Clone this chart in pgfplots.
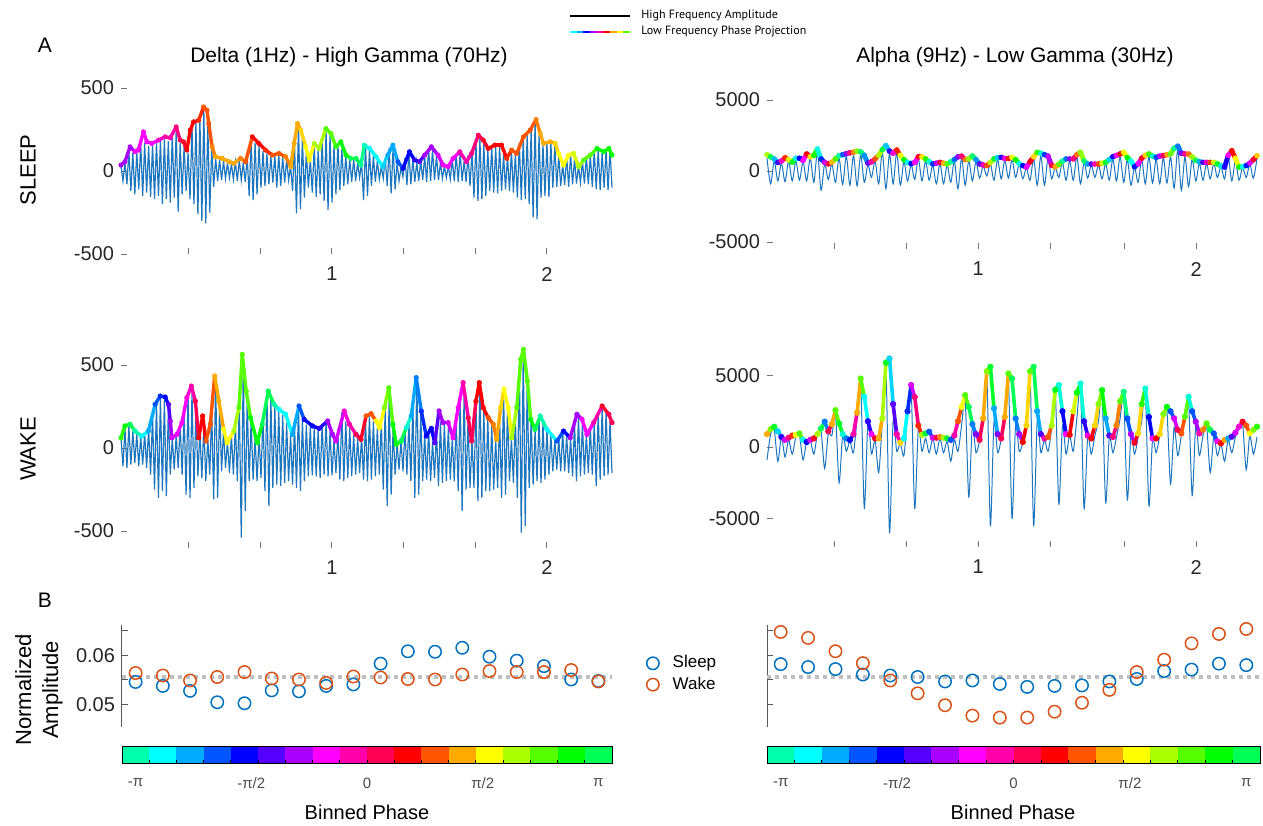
\documentclass[border=0pt]{standalone}
\usepackage{pgfplots}
\pgfplotsset{compat=1.18}
\usepackage{pgfplotstable}
\usepackage{fontspec}
\setmainfont{Liberation Sans}
\newfontfamily\legfont{PT Sans}
\definecolor{pc0}{RGB}{0,255,170}\definecolor{pc1}{RGB}{0,255,255}\definecolor{pc2}{RGB}{0,170,255}
\definecolor{pc3}{RGB}{0,85,255}\definecolor{pc4}{RGB}{0,0,255}\definecolor{pc5}{RGB}{85,0,255}
\definecolor{pc6}{RGB}{170,0,255}\definecolor{pc7}{RGB}{255,0,255}\definecolor{pc8}{RGB}{255,0,170}
\definecolor{pc9}{RGB}{255,0,85}\definecolor{pc10}{RGB}{255,0,0}\definecolor{pc11}{RGB}{255,85,0}
\definecolor{pc12}{RGB}{255,170,0}\definecolor{pc13}{RGB}{255,255,0}\definecolor{pc14}{RGB}{170,255,0}
\definecolor{pc15}{RGB}{85,255,0}\definecolor{pc16}{RGB}{0,255,0}\definecolor{pc17}{RGB}{0,255,85}
\definecolor{trc}{RGB}{30,118,190}
\definecolor{sblue}{RGB}{0,114,189}
\definecolor{worange}{RGB}{217,83,25}
\pgfplotsset{colormap={phase}{rgb255=(0,255,170) rgb255=(0,255,255) rgb255=(0,170,255) rgb255=(0,85,255) rgb255=(0,0,255) rgb255=(85,0,255) rgb255=(170,0,255) rgb255=(255,0,255) rgb255=(255,0,170) rgb255=(255,0,85) rgb255=(255,0,0) rgb255=(255,85,0) rgb255=(255,170,0) rgb255=(255,255,0) rgb255=(170,255,0) rgb255=(85,255,0) rgb255=(0,255,0) rgb255=(0,255,85) rgb255=(0,255,170)}}

% ---------- high frequency traces (one value per half cycle) ----------
\pgfplotstableread[row sep=\\,header=false]{30\\-60\\50\\-80\\120\\-120\\110\\-140\\115\\-110\\170\\-150\\170\\-130\\150\\-155\\160\\-170\\175\\-150\\185\\-200\\190\\-170\\180\\-190\\220\\-160\\250\\-245\\170\\-140\\150\\-120\\110\\-170\\270\\-200\\290\\-260\\330\\-300\\370\\-315\\300\\-250\\140\\-95\\80\\-60\\70\\-55\\60\\-45\\50\\-40\\42\\-50\\55\\-60\\70\\-55\\50\\-65\\85\\-150\\190\\-175\\170\\-140\\150\\-100\\120\\-90\\105\\-80\\90\\-70\\95\\-100\\100\\-90\\85\\-70\\70\\-55\\30\\-120\\160\\-255\\270\\-230\\200\\-160\\120\\-100\\70\\-130\\150\\-155\\130\\-140\\185\\-180\\240\\-235\\215\\-190\\150\\-140\\165\\-115\\130\\-90\\90\\-80\\70\\-65\\72\\-60\\50\\-40\\50\\-175\\150\\-150\\125\\-90\\90\\-65\\60\\-50\\25\\-45\\80\\-90\\140\\-135\\145\\-110\\50\\-60\\20\\-35\\80\\-85\\110\\-80\\70\\-65\\55\\-60\\65\\-55\\90\\-65\\135\\-60\\130\\-55\\95\\-55\\50\\-45\\30\\-40\\30\\-50\\70\\-60\\100\\-65\\110\\-60\\60\\-65\\95\\-90\\120\\-160\\180\\-180\\195\\-170\\165\\-150\\130\\-120\\150\\-130\\145\\-135\\150\\-120\\100\\-110\\90\\-120\\120\\-130\\105\\-160\\170\\-175\\195\\-170\\220\\-200\\250\\-280\\300\\-290\\215\\-160\\160\\-150\\170\\-155\\170\\-100\\155\\-95\\95\\-90\\40\\-85\\90\\-95\\100\\-80\\70\\-75\\30\\-70\\60\\-75\\85\\-80\\95\\-95\\125\\-110\\130\\-115\\110\\-100\\125\\-115\\130\\-100\\}\trTL

\pgfplotstableread[row sep=\\,header=false]{60\\-110\\120\\-120\\130\\-100\\100\\-90\\85\\-110\\70\\-100\\90\\-120\\120\\-160\\190\\-250\\270\\-300\\300\\-260\\290\\-290\\230\\-160\\60\\-130\\80\\-120\\140\\-160\\220\\-280\\320\\-300\\330\\-240\\240\\-170\\100\\-180\\140\\-200\\60\\-160\\220\\-310\\420\\-300\\250\\-140\\110\\-120\\40\\-150\\80\\-160\\145\\-200\\270\\-540\\500\\-380\\290\\-200\\170\\-190\\60\\-200\\70\\-180\\200\\-260\\330\\-350\\300\\-240\\250\\-220\\220\\-230\\200\\-210\\150\\-200\\80\\-220\\140\\-240\\250\\-260\\170\\-200\\140\\-170\\130\\-165\\120\\-170\\110\\-180\\140\\-160\\160\\-170\\100\\-165\\45\\-150\\90\\-190\\215\\-200\\160\\-180\\120\\-170\\80\\-160\\60\\-150\\70\\-190\\170\\-200\\200\\-190\\160\\-170\\120\\-160\\160\\-250\\260\\-350\\300\\-280\\120\\-160\\25\\-130\\45\\-140\\120\\-160\\160\\-200\\260\\-300\\410\\-280\\210\\-200\\80\\-190\\115\\-200\\40\\-180\\110\\-230\\160\\-210\\150\\-200\\120\\-190\\60\\-200\\170\\-260\\300\\-380\\330\\-250\\170\\-240\\45\\-240\\270\\-320\\380\\-300\\230\\-260\\180\\-260\\140\\-250\\60\\-240\\190\\-300\\340\\-280\\230\\-200\\60\\-210\\190\\-300\\500\\-510\\580\\-470\\390\\-240\\170\\-220\\110\\-200\\180\\-210\\150\\-190\\110\\-160\\80\\-140\\50\\-130\\60\\-140\\100\\-140\\80\\-150\\60\\-170\\150\\-200\\190\\-170\\150\\-160\\80\\-150\\130\\-160\\160\\-230\\220\\-190\\245\\-170\\220\\-160\\160\\-150\\}\trBL

\pgfplotstableread[row sep=\\,header=false]{900\\-900\\700\\-700\\550\\-750\\700\\-700\\700\\-650\\650\\-700\\900\\-800\\1350\\-1350\\500\\-600\\500\\-800\\900\\-950\\1050\\-1000\\1100\\-1050\\1150\\-800\\450\\-450\\700\\-900\\1300\\-1250\\1200\\-900\\1300\\-1000\\650\\-700\\450\\-600\\850\\-700\\700\\-650\\420\\-900\\520\\-900\\420\\-800\\700\\-1250\\900\\-1000\\720\\-700\\650\\-500\\350\\-350\\500\\-650\\800\\-550\\750\\-500\\800\\-450\\450\\-550\\220\\-650\\850\\-1000\\1050\\-1000\\900\\-550\\250\\-450\\600\\-650\\720\\-650\\1000\\-900\\600\\-500\\420\\-450\\420\\-550\\520\\-650\\850\\-700\\1000\\-800\\800\\-1000\\250\\-800\\780\\-900\\1000\\-850\\820\\-900\\920\\-850\\1000\\-1200\\1500\\-1350\\1000\\-1100\\850\\-700\\550\\-650\\520\\-550\\520\\-450\\300\\-550\\1000\\-700\\700\\-650\\250\\-450\\470\\-500\\900\\}\trTR

\pgfplotstableread[row sep=\\,header=false]{-900\\900\\1200\\-1000\\700\\-700\\500\\-500\\700\\800\\-900\\400\\500\\-500\\900\\1100\\-1500\\900\\800\\2300\\-2500\\800\\-300\\400\\-400\\2000\\4500\\-4300\\1700\\-500\\500\\-1800\\1800\\5800\\-6000\\1800\\-300\\250\\-600\\2200\\4100\\-4300\\1300\\-300\\600\\-400\\600\\-500\\600\\-400\\400\\-1000\\500\\-300\\1500\\3300\\-3500\\1500\\-400\\450\\1800\\5200\\-5500\\1800\\-400\\550\\1900\\4800\\-5000\\1600\\-300\\300\\1300\\5200\\-5500\\1800\\-400\\500\\-300\\1300\\4000\\-4000\\1500\\-500\\800\\-300\\2000\\4100\\-4300\\700\\-500\\800\\1800\\3700\\-3900\\700\\-400\\700\\2000\\3500\\-3700\\800\\-500\\700\\1800\\3800\\-4100\\500\\-400\\800\\2200\\2500\\-2600\\1400\\-600\\800\\2000\\3200\\-3400\\1500\\-600\\800\\1500\\-1800\\700\\-600\\200\\-1000\\500\\-400\\700\\1300\\1600\\-1600\\800\\-500\\700\\}\trBR

% ---------- low frequency phase projection (amplitude envelope, phase bin) ----------
\pgfplotstableread{
k e c
0 36 6
2 56 6
4.6 146 6
7.1 116 7
8.8 126 7
11.4 236 7
13.1 176 7
15.6 166 7
19 186 7.5
22.4 206 8
25 200 8
28 266 8.5
30 186 9
31.7 176 9.5
33.4 126 10
35.1 246 10
36.8 296 10
39.4 306 10.5
41.9 386 11
43.6 366 11
44.5 286 11
46.2 146 11.5
47.9 86 12
51.3 76 12
54.7 56 12
57.2 46 12
60.6 76 11.5
63.2 56 11
66.6 206 10
69.9 166 10
73.3 126 10.5
76.7 96 11
80.1 106 11
83.5 86 11.5
86.1 26 12
87.8 166 12
89.5 286 12
91.2 246 12.5
93.7 146 13
95.4 66 13
98 166 14
100.5 136 14
103.9 256 15
106.5 226 15
109 146 15.5
111.5 176 16
114.1 96 16
116.6 76 17
119.2 76 17
121.7 36 17.7
123.4 156 0.3
126 136 1
129.4 86 1
132.8 26 1.5
135.3 96 2
137.9 156 2
140.4 56 3
143 16 4
146.3 116 4
148.9 66 4.5
151.4 56 5
154 96 6
157.4 146 6
160.8 96 6.5
163.3 36 7
165.9 26 7
168.4 76 7
171.8 116 8
175.2 56 8
177.8 106 8.5
181.2 216 9
183.7 186 9.5
186.2 136 10
189.6 156 10
193 156 10
195.6 76 10.5
198.1 126 11
200.7 106 11
204.1 206 11
207.5 246 11
210.5 310 11.5
212.6 226 12
214.3 166 12
217.7 176 12
220.2 166 12.5
221.9 106 13
224.4 36 13
227 96 13
229.5 106 13.5
232.1 26 14
234.6 66 15
238 96 15
241.4 136 16
244.8 116 16
247.4 136 16
249 96 16
}\envTL

\pgfplotstableread{
k e c
0 62 15.5
2 133 16
4.6 143 17
7.1 102 0
10.5 72 1
13.9 102 2
17.3 263 3
19.9 313 3.5
22.4 307 4
24.1 262 5
25 162 6
25.8 62 6.5
28.4 82 7
30.9 153 7
33.4 303 7.5
35.7 373 8
37.7 283 9
39.4 62 10
41.4 193 10
43.1 42 11
45.3 143 11
47.5 434 12
49.6 283 12
52.1 112 13
53.8 32 13
57.2 102 14
59.8 243 15
61.5 564 15
63.5 343 15
65.7 183 16
69.1 32 16
71.6 143 17
74.7 343 17
77.6 263 0
80.1 233 1
83.5 203 1
86.9 82 2
90.3 253 3
92.9 172 4
97.1 133 4
100.5 118 4.5
104.8 163 6
107.3 82 6
109 42 6.5
113.2 223 7.5
115.8 143 8
119.2 82 9
121.7 52 9.5
124.3 193 11
126.8 207 11
129.4 163 13
131.1 122 13
133.6 243 14.5
135.8 363 15
137.9 142 16
139.6 22 16
142.1 42 17
144.7 123 0.5
147.2 193 2
149.7 424 2.5
152.3 222 3.5
154.8 72 4
157.4 118 4
159.1 32 5
161.3 223 6
163.3 153 6
165.9 153 6.5
168.4 62 7
171 243 7
173.5 394 8
176.1 182 9
177.8 42 9
180 282 10
181.7 394 10
183.7 242 10
186.2 183 11
188.8 143 11.5
190.5 52 12
192.5 243 12.5
194.2 354 13
196.4 242 13
198.1 62 14
200.7 243 15
202.7 534 15
204.1 594 15
206.1 404 15
207.8 172 16
210 112 17
212.6 193 0
216 112 1
221.1 42 3
224.4 102 4
227.8 62 6
231.2 203 6
233.8 173 7
236.3 82 7
239.7 153 8
244 253 9.5
247.4 203 9
249 153 9
}\envBL

\pgfplotstableread{
k e c
0 1150 14.0
1 1000 16.9
2 850 1.8
3 600 4.7
4 700 7.6
5 930 10.5
6 800 13.4
7 620 16.3
8 900 1.2
9 900 4.1
10 750 7.0
11 1200 9.9
12 1000 12.8
13 1100 15.7
14 1550 0.6
15 850 3.5
16 600 6.4
17 500 9.3
18 600 12.2
19 850 15.1
20 1080 0.0
21 1150 2.9
22 1220 5.8
23 1280 8.7
24 1320 11.6
25 1400 14.5
26 1350 17.4
27 1100 2.3
28 550 5.2
29 650 8.1
30 850 11.0
31 1100 13.9
32 1500 16.8
33 1790 1.7
34 1400 4.6
35 1250 7.5
36 1480 10.4
37 1100 13.3
38 800 16.2
39 600 1.1
40 520 4.0
41 600 6.9
42 1000 9.8
43 1000 12.7
44 850 15.6
45 650 0.5
46 500 3.4
47 550 6.3
48 610 9.2
49 550 12.1
50 500 15.0
51 650 17.9
52 800 2.8
53 1000 5.7
54 1050 8.6
55 800 11.5
56 850 14.4
57 1060 17.3
58 800 2.2
59 500 5.1
60 420 8.0
61 380 10.9
62 600 13.8
63 850 16.7
64 940 1.6
65 960 4.5
66 880 7.4
67 880 10.3
68 960 13.2
69 800 16.1
70 520 1.0
71 380 3.9
72 270 6.8
73 650 9.7
74 1000 12.6
75 1320 15.5
76 1250 0.4
77 1150 3.3
78 1050 6.2
79 400 9.1
80 300 12.0
81 470 14.9
82 700 17.8
83 850 2.7
84 850 5.6
85 850 8.5
86 1150 11.4
87 1320 14.3
88 700 17.2
89 490 2.1
90 490 5.0
91 490 7.9
92 490 10.8
93 550 13.7
94 610 16.6
95 800 1.5
96 1010 4.4
97 1100 7.3
98 1200 10.2
99 1320 13.1
100 950 16.0
101 700 0.9
102 300 3.8
103 500 6.7
104 900 9.6
105 1100 12.5
106 1200 15.4
107 1050 0.3
108 960 3.2
109 1050 6.1
110 1080 9.0
111 1150 11.9
112 1200 14.8
113 1600 17.7
114 1750 2.6
115 1250 5.5
116 1200 8.4
117 1200 11.3
118 1000 14.2
119 750 17.1
120 650 2.0
121 610 4.9
122 610 7.8
123 610 10.7
124 610 13.6
125 500 16.5
126 350 1.4
127 280 4.3
128 1100 7.2
129 1430 10.1
130 900 13.0
131 280 15.9
132 300 0.8
133 380 3.7
134 550 6.6
135 800 9.5
136 1080 12.4
}\envTR

\pgfplotstableread{
k e c
0 900 12
1 1250 14.5
2 1420 16.5
3 1100 1.5
4 700 4.5
5 500 6.5
6 650 8.5
7 800 10.5
8 850 13
9 950 15
10 500 1
11 350 4
12 500 6.5
13 600 9.5
14 900 14
15 1300 17
16 1770 2.5
17 1100 9
18 1600 12
19 2580 15
20 1650 16.5
21 900 0.5
22 600 2.5
23 490 4
24 900 8
25 2400 12
26 4790 15
27 3510 1
28 1800 4.5
29 900 7
30 600 9.5
31 600 12
32 2000 14
33 5900 16.5
34 6190 1.5
35 3000 5
36 900 8
37 300 12.5
38 600 1
39 2500 3.5
40 4330 6.5
41 3500 8.5
42 1500 10.5
43 850 14
44 950 16.5
45 1070 3
46 650 6.5
47 650 9
48 700 11.5
49 650 14
50 600 16.5
51 500 3
52 800 8
53 1800 11
54 2800 13
55 3630 15
56 2800 17
57 1600 2.5
58 900 5.5
59 500 9
60 2000 12
61 5300 14.5
62 5610 16.5
63 2700 2
64 900 5.5
65 600 9
66 2100 12
67 5140 15
68 4800 17
69 2000 2.5
70 900 6
71 350 10
72 1500 12.5
73 5300 15
74 5610 17
75 2500 2
76 900 5
77 600 8
78 700 11
79 1500 14
80 4000 16.5
81 4330 0.5
82 2500 4
83 900 7
84 850 10
85 2500 13.5
86 3800 16
87 4440 0.5
88 1800 4.5
89 800 7.5
90 600 10
91 1500 12.5
92 3000 14.5
93 3980 16
94 2000 2
95 800 5
96 700 8.5
97 1500 11.5
98 3200 15
99 3860 17.5
100 2000 3
101 900 6
102 300 9.5
103 950 12.5
104 3000 15.5
105 4090 0.5
106 2100 4
107 600 7
108 600 10
109 900 12.5
110 2300 14.5
111 2810 16
112 2500 3
113 2000 6.5
114 1200 9
115 950 11
116 2120 15
117 3510 0.5
118 2500 3
119 1770 6
120 950 8
121 1200 11.5
122 1650 15
123 1200 17
124 950 3
125 400 7
126 260 10
127 490 12
128 600 2
129 720 5
130 1000 6.5
131 1420 7.5
132 1770 9.5
133 1500 11
134 950 13
135 1200 14.5
136 1420 15.5
}\envBR

\pgfplotsset{
  sig/.style={anchor=south west, scale only axis,
    axis x line*=bottom, axis y line*=left, axis line style={draw=none},
    tick align=inside, major tick length=3pt,
    tick style={black!55, line width=0.5pt},
    clip=false, scaled ticks=false,
    /pgf/number format/1000 sep={},
    /pgf/number format/assume math mode=true,
    ticklabel style={font=\fontsize{10}{12}\selectfont, text=black!85},
    xticklabel style={yshift=-3pt},
    colormap name=phase, point meta min=0, point meta max=18},
  env/.style={mesh, shader=flat corner, point meta=explicit, line width=#1},
  dots/.style={scatter, only marks, mark=*, mark size=#1, point meta=explicit,
    scatter/use mapped color={draw=mapped color, fill=mapped color}},
  sc/.style={anchor=south west, scale only axis, height=51pt,
    xmin=-0.5, xmax=17.5, ymin=0.0455, ymax=0.0661,
    axis x line=none, axis y line*=left,
    y axis line style={black!65, line width=0.5pt},
    xtick=\empty, ytick={0.05,0.055,0.06,0.065},
    scaled y ticks=false,
    tick align=inside, major tick length=3pt,
    tick style={black!65, line width=0.5pt},
    ticklabel style={font=\fontsize{10}{12}\selectfont, text=black!85},
    clip=false},
  cb/.style={anchor=south west, scale only axis, height=8.5pt,
    xmin=-0.5, xmax=17.5, ymin=0, ymax=1, ytick=\empty,
    xtick={0,4.25,8.5,12.75,17}, xticklabels={-π,-π/2,0,π/2,π},
    major tick length=0pt,
    xticklabel style={font=\fontsize{7.5}{9}\selectfont, text=black!70, yshift=-4pt},
    axis line style={black, line width=0.5pt},
    extra x ticks={0.5,1.5,...,16.5}, extra x tick labels={},
    extra x tick style={major tick length=1.5pt, tick align=inside, xtick pos=bottom, tick style={black, line width=0.4pt}},
    axis on top},
}
\newcommand\cells{%
  \addplot[draw=none,fill=pc0] coordinates {(-0.5,1)(0.5,1)} \closedcycle;
  \addplot[draw=none,fill=pc1] coordinates {(0.5,1)(1.5,1)} \closedcycle;
  \addplot[draw=none,fill=pc2] coordinates {(1.5,1)(2.5,1)} \closedcycle;
  \addplot[draw=none,fill=pc3] coordinates {(2.5,1)(3.5,1)} \closedcycle;
  \addplot[draw=none,fill=pc4] coordinates {(3.5,1)(4.5,1)} \closedcycle;
  \addplot[draw=none,fill=pc5] coordinates {(4.5,1)(5.5,1)} \closedcycle;
  \addplot[draw=none,fill=pc6] coordinates {(5.5,1)(6.5,1)} \closedcycle;
  \addplot[draw=none,fill=pc7] coordinates {(6.5,1)(7.5,1)} \closedcycle;
  \addplot[draw=none,fill=pc8] coordinates {(7.5,1)(8.5,1)} \closedcycle;
  \addplot[draw=none,fill=pc9] coordinates {(8.5,1)(9.5,1)} \closedcycle;
  \addplot[draw=none,fill=pc10] coordinates {(9.5,1)(10.5,1)} \closedcycle;
  \addplot[draw=none,fill=pc11] coordinates {(10.5,1)(11.5,1)} \closedcycle;
  \addplot[draw=none,fill=pc12] coordinates {(11.5,1)(12.5,1)} \closedcycle;
  \addplot[draw=none,fill=pc13] coordinates {(12.5,1)(13.5,1)} \closedcycle;
  \addplot[draw=none,fill=pc14] coordinates {(13.5,1)(14.5,1)} \closedcycle;
  \addplot[draw=none,fill=pc15] coordinates {(14.5,1)(15.5,1)} \closedcycle;
  \addplot[draw=none,fill=pc16] coordinates {(15.5,1)(16.5,1)} \closedcycle;
  \addplot[draw=none,fill=pc17] coordinates {(16.5,1)(17.5,1)} \closedcycle;
}

\begin{document}
\begin{tikzpicture}
\path[use as bounding box] (0,0) rectangle (631.5pt,-412.5pt);

% ---- A: SLEEP delta / high gamma ----
\begin{axis}[sig, at={(60.5pt,-127pt)}, width=245.5pt, height=83pt,
  xmin=0, xmax=249, ymin=-500, ymax=500, ytick={-500,0,500},
  xtick={34.3,70.6,107,143.4,179.7,216}, xticklabels={,,1,,,2}]
\addplot[trc, line width=0.6pt] table[x expr=\coordindex, y index=0]{\trTL};
\addplot[env=1.7pt] table[x=k,y=e,meta=c]{\envTL};
\addplot[dots=1.05pt] table[x=k,y=e,meta=c]{\envTL};
\end{axis}

% ---- A: SLEEP alpha / low gamma ----
\begin{axis}[sig, at={(383.5pt,-124.55pt)}, width=245pt, height=78.1pt,
  xmin=0, xmax=136, ymin=-5500, ymax=5500, ytick={-5000,0,5000},
  xtick={18.6,38.6,58.6,78.8,99.1,119.1}, xticklabels={,,1,,,2}]
\addplot[trc, line width=0.5pt, smooth, tension=0.5] table[x expr=\coordindex, y index=0]{\trTR};
\addplot[env=2.4pt] table[x=k,y=e,meta=c]{\envTR};
\addplot[dots=1.2pt] table[x=k,y=e,meta=c]{\envTR};
\end{axis}

% ---- A: WAKE delta / high gamma ----
\begin{axis}[sig, at={(60.5pt,-273.8pt)}, width=245.5pt, height=99.6pt,
  xmin=0, xmax=249, ymin=-600, ymax=600, ytick={-500,0,500},
  xtick={34.3,70.6,107,143.4,179.7,216}, xticklabels={,,1,,,2}]
\addplot[trc, line width=0.6pt] table[x expr=\coordindex, y index=0]{\trBL};
\addplot[env=1.7pt] table[x=k,y=e,meta=c]{\envBL};
\addplot[dots=1.1pt] table[x=k,y=e,meta=c]{\envBL};
\end{axis}

% ---- A: WAKE alpha / low gamma ----
\begin{axis}[sig, at={(383.5pt,-273.55pt)}, width=245pt, height=100.1pt,
  xmin=0, xmax=136, ymin=-7000, ymax=7000, ytick={-5000,0,5000},
  xtick={18.6,38.6,58.6,78.8,99.1,119.1}, xticklabels={,,1,,,2}]
\addplot[trc, line width=0.5pt, smooth, tension=0.45] table[x expr=\coordindex, y index=0]{\trBR};
\addplot[env=1.8pt] table[x=k,y=e,meta=c]{\envBR};
\addplot[dots=1.35pt] table[x=k,y=e,meta=c]{\envBR};
\end{axis}

% ---- B: binned amplitude, delta-high gamma ----
\begin{axis}[sc, at={(61pt,-363.5pt)}, width=245pt,
  yticklabels={0.05,,0.06,},
  legend style={at={(1.07,0.52)}, anchor=west, draw=none, fill=none,
    font=\fontsize{8.5}{10}\selectfont, inner sep=0pt, row sep=1pt,
    nodes={inner sep=1pt}},
  legend cell align=left,
  legend image code/.code={\draw[#1] plot coordinates {(0.16cm,0cm)}; \path (0.46cm,0cm);}]
\addplot[black!25, line width=2pt, dash pattern=on 2pt off 2pt, forget plot] coordinates {(-0.5,0.05556)(17.5,0.05556)};
\addplot[only marks, mark=o, mark size=3.1pt, sblue, line width=0.75pt] coordinates {
(0,0.0546)(1,0.0538)(2,0.0528)(3,0.0505)(4,0.0503)(5,0.0529)(6,0.0527)(7,0.0538)(8,0.0541)
(9,0.0583)(10,0.0608)(11,0.0607)(12,0.0615)(13,0.0597)(14,0.0589)(15,0.0578)(16,0.0551)(17,0.0548)};
\addlegendentry{Sleep}
\addplot[only marks, mark=o, mark size=3.1pt, worange, line width=0.75pt] coordinates {
(0,0.0564)(1,0.0559)(2,0.0549)(3,0.0556)(4,0.0566)(5,0.0553)(6,0.0551)(7,0.0544)(8,0.0557)
(9,0.0555)(10,0.0552)(11,0.0551)(12,0.0561)(13,0.0568)(14,0.0566)(15,0.0566)(16,0.0570)(17,0.0547)};
\addlegendentry{Wake}
\end{axis}

% ---- B: binned amplitude, alpha-low gamma ----
\begin{axis}[sc, at={(383.5pt,-363.5pt)}, width=246.5pt, yticklabels={}]
\addplot[black!25, line width=2pt, dash pattern=on 2pt off 2pt] coordinates {(-0.5,0.05556)(17.5,0.05556)};
\addplot[only marks, mark=o, mark size=3.1pt, sblue, line width=0.75pt] coordinates {
(0,0.0582)(1,0.0576)(2,0.0572)(3,0.0561)(4,0.0559)(5,0.0556)(6,0.0547)(7,0.0549)(8,0.0542)
(9,0.0536)(10,0.0538)(11,0.0539)(12,0.0547)(13,0.0552)(14,0.0568)(15,0.0571)(16,0.0583)(17,0.0580)};
\addplot[only marks, mark=o, mark size=3.1pt, worange, line width=0.75pt] coordinates {
(0,0.0647)(1,0.0635)(2,0.0608)(3,0.0584)(4,0.0549)(5,0.0523)(6,0.0499)(7,0.0478)(8,0.0474)
(9,0.0474)(10,0.0486)(11,0.0504)(12,0.0530)(13,0.0566)(14,0.0591)(15,0.0624)(16,0.0643)(17,0.0653)};
\end{axis}

% ---- phase colour bars ----
\begin{axis}[cb, at={(61pt,-381.5pt)}, width=245pt]
\cells
\end{axis}
\begin{axis}[cb, at={(383.5pt,-381.5pt)}, width=246.5pt]
\cells
\end{axis}

% ---- text ----
\node[font=\fontsize{10.5}{12}\selectfont] at (22.5pt,-22.5pt) {A};
\node[font=\fontsize{10.5}{12}\selectfont] at (22.5pt,-300pt) {B};
\node[font=\fontsize{10.5}{12}\selectfont] at (174.5pt,-28.5pt) {Delta (1Hz) - High Gamma (70Hz)};
\node[font=\fontsize{10.5}{12}\selectfont] at (507.5pt,-28.5pt) {Alpha (9Hz) - Low Gamma (30Hz)};
\node[rotate=90, font=\fontsize{11}{13}\selectfont] at (14pt,-85pt) {SLEEP};
\node[rotate=90, font=\fontsize{11}{13}\selectfont] at (14pt,-224.5pt) {WAKE};
\node[rotate=90, align=center, font=\fontsize{11}{13.5}\selectfont] at (19.5pt,-345pt) {Normalized\\Amplitude};
\node[font=\fontsize{10}{12}\selectfont] at (183.5pt,-406pt) {Binned Phase};
\node[font=\fontsize{10}{12}\selectfont] at (506.5pt,-406pt) {Binned Phase};

% ---- top legend ----
\draw[black, line width=1pt] (285pt,-8pt) -- (315pt,-8pt);
\draw[pc1, line width=1pt] (285pt,-16pt) -- (288.4pt,-16pt);
\draw[pc2, line width=1pt] (288.3pt,-16pt) -- (291.7pt,-16pt);
\draw[pc4, line width=1pt] (291.6pt,-16pt) -- (295pt,-16pt);
\draw[pc6, line width=1pt] (294.9pt,-16pt) -- (298.4pt,-16pt);
\draw[pc8, line width=1pt] (298.3pt,-16pt) -- (301.7pt,-16pt);
\draw[pc10, line width=1pt] (301.6pt,-16pt) -- (305pt,-16pt);
\draw[pc12, line width=1pt] (304.9pt,-16pt) -- (308.4pt,-16pt);
\draw[pc13, line width=1pt] (308.3pt,-16pt) -- (311.7pt,-16pt);
\draw[pc15, line width=1pt] (311.6pt,-16pt) -- (315pt,-16pt);
\node[anchor=west, inner sep=0pt, font=\legfont\fontsize{6}{7}\selectfont] at (320.5pt,-8pt) {High Frequency Amplitude};
\node[anchor=west, inner sep=0pt, font=\legfont\fontsize{6}{7}\selectfont] at (320.5pt,-16pt) {Low Frequency Phase Projection};
\end{tikzpicture}
\end{document}
